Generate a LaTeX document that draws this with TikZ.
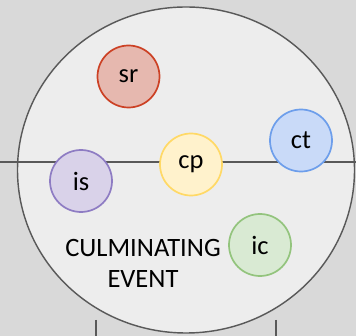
\documentclass[tikz,border=0pt]{standalone}
\usepackage{fontspec}
\setmainfont{Carlito}
\usepackage{tikz}
\usetikzlibrary{calc}
\definecolor{srline}{HTML}{CC4125}
\definecolor{srfill}{HTML}{E6B8AF}
\definecolor{ctline}{HTML}{6D9EEB}
\definecolor{ctfill}{HTML}{C9DAF8}
\definecolor{cpline}{HTML}{FFD966}
\definecolor{cpfill}{HTML}{FFF2CC}
\definecolor{isline}{HTML}{8E7CC3}
\definecolor{isfill}{HTML}{D9D2E9}
\definecolor{icline}{HTML}{93C47D}
\definecolor{icfill}{HTML}{D9EAD3}
\tikzset{
	bubble/.style={circle, minimum size=62pt, inner sep=0pt, line width=0.6mm, font=\fontsize{26.5}{30}\selectfont}
}

\begin{document}
\begin{tikzpicture}[x=1pt, y=-1pt]
			%%%%% START %%%%%
			
			\fill[black!15] (0, 0) rectangle (356, 336);
			\useasboundingbox (0, 0) rectangle (356, 336);
			
			\draw[line width=0.5mm, color=black!65, fill=black!7] (186, 170) ellipse (168.5 and 163);
			
			\draw[line width=0.5mm, color=black!65] (0, 162) -- (356, 162);
			\draw[line width=0.4mm, color=black!65] (96, 320) -- (96, 336);
			\draw[line width=0.4mm, color=black!65] (276, 320) -- (276, 336);
			
			\node[bubble, draw=srline, fill=srfill] (sr) at (128.5, 76.5) {sr};
			\node[bubble, draw=ctline, fill=ctfill] (ct) at (301, 140.5) {ct};
			\node[bubble, draw=cpline, fill=cpfill] (cp) at (191, 164.5) {cp};
			\node[bubble, draw=isline, fill=isfill] (is) at (81, 181) {is};
			\node[bubble, draw=icline, fill=icfill] (ic) at (260, 245) {ic};
			
			\node[align=center, font=\fontsize{26.5}{31}\selectfont] (event) at (143, 263) {CULMINATING\\EVENT};
			
			%%%%% END %%%%%
		\end{tikzpicture}
\end{document}
